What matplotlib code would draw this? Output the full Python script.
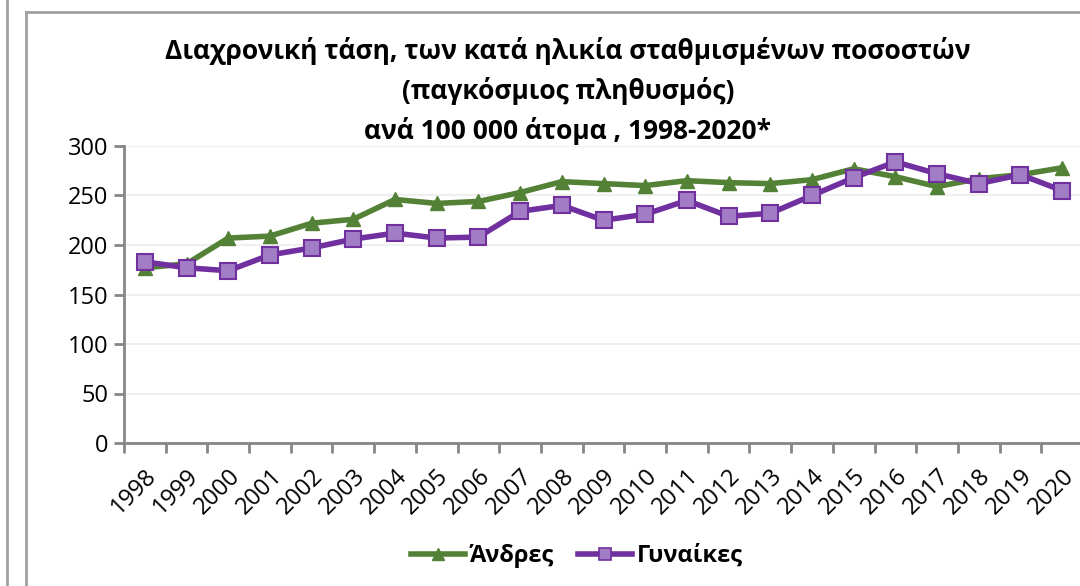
import matplotlib.pyplot as plt
from matplotlib.lines import Line2D
import numpy as np

plt.rcParams['font.family'] = ['Open Sans', 'DejaVu Sans']

years = [str(y) for y in range(1998, 2021)]
men = [177, 181, 207, 209, 222, 226, 246, 242, 244, 253, 264, 262, 260,
       265, 263, 262, 266, 277, 269, 259, 267, 271, 278]
women = [183, 177, 174, 190, 197, 206, 212, 207, 208, 234, 240, 225, 231,
         245, 229, 232, 250, 268, 284, 272, 262, 271, 255]

title = ("Διαχρονική τάση, των κατά ηλικία σταθμισμένων ποσοστών\n"
         "(παγκόσμιος πληθυσμός)\n"
         "ανά 100 000 άτομα , 1998-2020*")

W, H = 1080, 586
fig = plt.figure(figsize=(W / 100, H / 100), dpi=100)

# screenshot frame lines
fig.add_artist(Line2D([7 / W, 7 / W], [0, 1], color='#a0a0a0', lw=2))
fig.add_artist(Line2D([26 / W, 26 / W], [0, 1 - 12 / H], color='#a0a0a0', lw=2))
fig.add_artist(Line2D([26 / W, 1], [1 - 12 / H, 1 - 12 / H], color='#a0a0a0', lw=2))

ax = fig.add_axes([124 / W, (H - 443) / H, (1083 - 124) / W, (443 - 146) / H])
x = np.arange(len(years))

green = '#538135'
purple = '#7030a0'
sq_fill = '#a27cc4'
ax.plot(x, men, color=green, lw=4, marker='^', ms=10, mfc=green, mec=green,
        clip_on=False, zorder=3)
ax.plot(x, women, color=purple, lw=4, marker='s', ms=11, mfc=sq_fill,
        mec=purple, mew=1.5, clip_on=False, zorder=4)

ax.set_xlim(-0.5, len(years) - 0.5)
ax.set_ylim(0, 300)
ax.set_yticks(range(0, 301, 50))
ax.set_xticks(np.arange(-0.5, len(years), 1), minor=False)
ax.set_xticklabels([])
ax.set_xticks(x, minor=True)
ax.set_xticklabels(years, minor=True, rotation=45, ha='right',
                   rotation_mode='anchor', fontsize=17)
ax.tick_params(axis='x', which='minor', length=0, pad=15)
ax.tick_params(axis='x', which='major', length=7, width=2, color='#868686')
ax.tick_params(axis='y', length=7, width=2, color='#868686', labelsize=17, pad=4)

ax.grid(axis='y', color='#efefef', lw=1.5)
ax.set_axisbelow(True)
for s in ['top', 'right']:
    ax.spines[s].set_visible(False)
for s in ['left', 'bottom']:
    ax.spines[s].set_color('#868686')
    ax.spines[s].set_linewidth(2)

fig.text(568 / W, 1 - 91 / H, title, ha='center', va='center', fontsize=19,
         fontweight='bold', linespacing=1.53)

handles = [
    Line2D([], [], color=green, lw=4, marker='^', ms=8, mfc=green, mec=green),
    Line2D([], [], color=purple, lw=4, marker='s', ms=9, mfc=sq_fill,
           mec=purple, mew=1.2),
]
fig.legend(handles, ['Άνδρες', 'Γυναίκες'], loc='center',
           bbox_to_anchor=(577 / W, 1 - 556 / H), ncol=2, frameon=False,
           handlelength=2.3, columnspacing=1.0, handletextpad=0.2,
           prop={'weight': 'bold', 'size': 17})

fig.savefig('out.png', dpi=100)
